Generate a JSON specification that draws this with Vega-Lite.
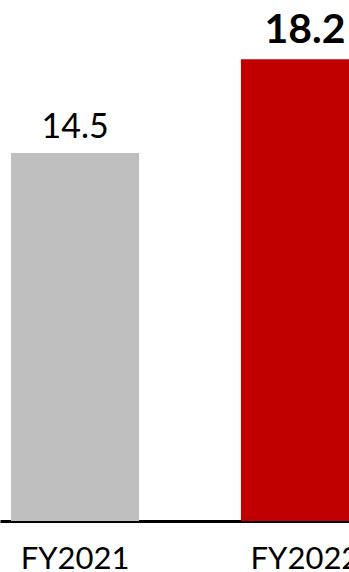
{
  "$schema": "https://vega.github.io/schema/vega-lite/v6.json",
  "autosize": {"type": "none"},
  "padding": {"top": 0, "left": 0, "right": 0, "bottom": 51},
  "width": 380,
  "height": 521,
  "background": "white",
  "config": {"view": {"stroke": null}},
  "data": {"values": [
    {"year": "FY2021", "value": 14.5, "label": "14.5"},
    {"year": "FY2022", "value": 18.2, "label": "18.2"}
  ]},
  "encoding": {
    "x": {"field": "year", "type": "nominal", "sort": null,
      "scale": {"paddingInner": 0.443, "paddingOuter": 0.048},
      "axis": {"title": null, "labelAngle": 0, "ticks": false, "domainColor": "black", "domainWidth": 3,
        "labelFont": "Lato", "labelFontSize": 31, "labelColor": "black", "labelBaseline": "alphabetic", "labelPadding": 47, "labelOverlap": false, "labelBound": false}},
    "y": {"field": "value", "type": "quantitative",
      "scale": {"domain": [0, 20.53], "nice": false, "zero": true},
      "axis": null}
  },
  "layer": [
    {"mark": {"type": "bar"},
     "encoding": {"color": {"field": "year", "type": "nominal", "legend": null,
       "scale": {"domain": ["FY2021", "FY2022"], "range": ["#BFBFBF", "#C00000"]}}}},
    {"transform": [{"filter": "datum.year === 'FY2021'"}],
     "mark": {"type": "text", "baseline": "alphabetic", "dy": -15, "font": "Lato", "fontSize": 34, "color": "black"},
     "encoding": {"text": {"field": "label"}}},
    {"transform": [{"filter": "datum.year === 'FY2022'"}],
     "mark": {"type": "text", "baseline": "alphabetic", "dy": -16, "font": "Lato", "fontSize": 41, "fontWeight": "bold", "color": "black"},
     "encoding": {"text": {"field": "label"}}}
  ]
}
